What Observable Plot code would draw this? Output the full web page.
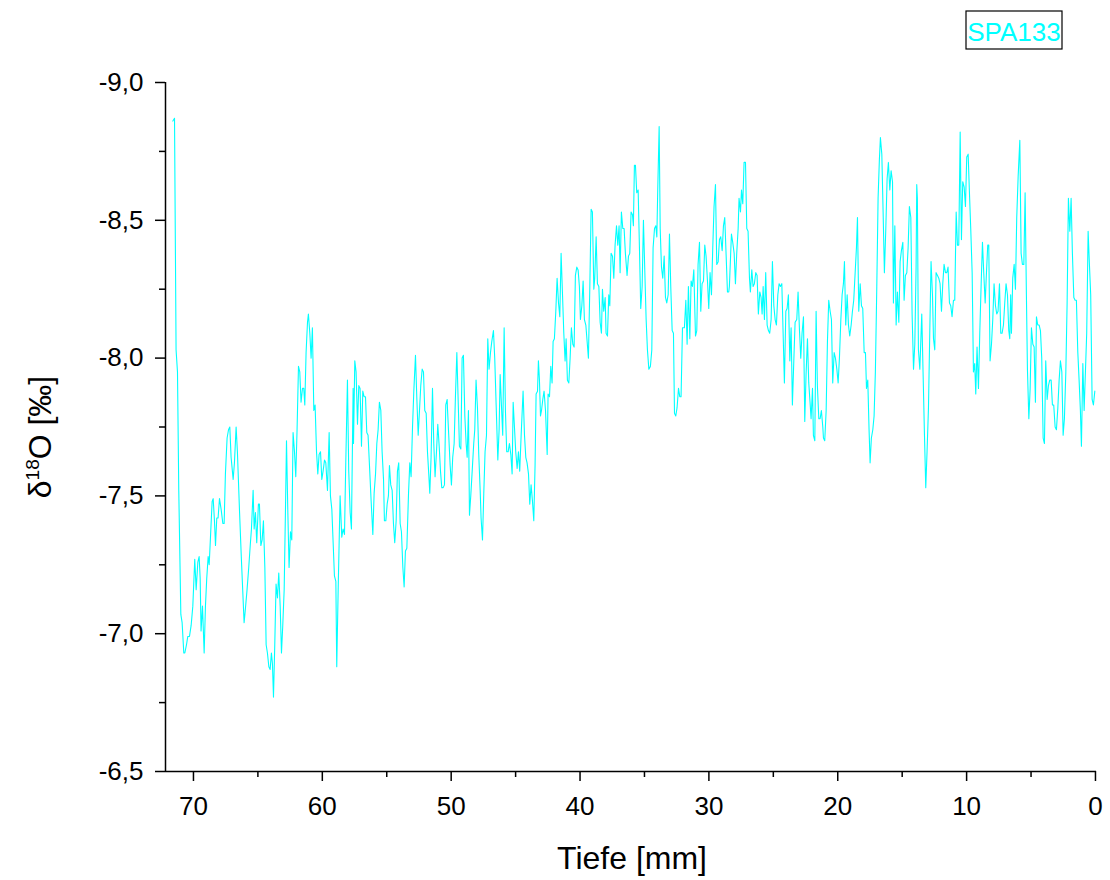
<!DOCTYPE html>
<html><head><meta charset="utf-8">
<script src="https://cdn.jsdelivr.net/npm/d3@7"></script>
<script src="https://cdn.jsdelivr.net/npm/@observablehq/plot@0.6"></script>
<style>
html,body{margin:0;padding:0;background:#fff;}
#chart{position:relative;width:1110px;height:880px;}
</style></head><body><div id="chart"></div>
<script>
const seriesName = "SPA133";
const xTitle = "Tiefe [mm]";
const yTitleParts = ["δ", "18", "O [‰]"];
const yTickValues = [-9, -8.5, -8, -7.5, -7, -6.5];
const yMinorTicks = [-8.75, -8.25, -7.75, -7.25, -6.75];
const xTickValues = [0, 10, 20, 30, 40, 50, 60, 70];
const xMinorTicks = [5, 15, 25, 35, 45, 55, 65];

// [depth mm, δ18O ‰]
const spa133 = [
[71.60,-8.86],[71.47,-8.87],[71.35,-8.03],[71.24,-7.95],[71.14,-7.52],[70.98,-7.07],[70.88,-7.04],[70.75,-6.93],[70.67,-6.93],[70.54,-6.96],[70.44,-6.99],[70.31,-6.99],[70.18,-7.03],[70.05,-7.10],[69.90,-7.27],[69.79,-7.16],[69.66,-7.26],[69.56,-7.28],[69.48,-7.20],[69.41,-7.01],[69.30,-7.10],[69.17,-6.93],[69.07,-7.10],[68.97,-7.20],[68.86,-7.28],[68.78,-7.25],[68.68,-7.35],[68.55,-7.48],[68.47,-7.49],[68.37,-7.41],[68.29,-7.32],[68.19,-7.42],[68.09,-7.42],[67.98,-7.49],[67.85,-7.45],[67.72,-7.40],[67.62,-7.40],[67.52,-7.58],[67.39,-7.71],[67.28,-7.74],[67.18,-7.75],[67.08,-7.64],[66.92,-7.56],[66.82,-7.62],[66.69,-7.75],[66.59,-7.66],[66.43,-7.45],[66.28,-7.27],[66.07,-7.04],[65.97,-7.09],[65.84,-7.16],[65.71,-7.24],[65.58,-7.33],[65.50,-7.38],[65.37,-7.52],[65.29,-7.38],[65.19,-7.44],[65.09,-7.33],[64.96,-7.47],
[64.88,-7.47],[64.77,-7.32],[64.67,-7.34],[64.57,-7.41],[64.46,-7.24],[64.36,-6.96],[64.26,-6.93],[64.15,-6.88],[64.05,-6.87],[63.95,-6.93],[63.87,-6.89],[63.79,-6.77],[63.69,-6.96],[63.59,-7.18],[63.48,-7.13],[63.38,-7.22],[63.27,-7.10],[63.17,-6.93],[63.07,-7.03],[62.96,-7.16],[62.86,-7.45],[62.78,-7.70],[62.68,-7.45],[62.58,-7.24],[62.47,-7.37],[62.37,-7.34],[62.27,-7.73],[62.16,-7.66],[62.06,-7.57],[61.96,-7.74],[61.85,-7.97],[61.75,-7.95],[61.65,-7.84],[61.54,-7.89],[61.44,-7.89],[61.36,-7.83],[61.26,-8.02],[61.15,-8.13],[61.08,-8.16],[60.97,-8.09],[60.87,-8.00],[60.77,-8.11],[60.66,-7.81],[60.56,-7.83],[60.45,-7.66],[60.35,-7.58],[60.25,-7.65],[60.14,-7.66],[60.04,-7.56],[59.94,-7.59],[59.83,-7.63],[59.73,-7.62],[59.60,-7.52],[59.47,-7.73],[59.37,-7.50],[59.26,-7.45],[59.16,-7.33],[59.06,-7.21],[58.95,-7.19],[58.88,-6.88],[58.77,-7.16],[58.62,-7.50],[58.49,-7.35],[58.39,-7.38],[58.28,-7.36],[58.18,-7.62],[58.05,-7.92],[57.95,-7.59],[57.84,-7.44],[57.74,-7.38],[57.61,-7.89],
[57.58,-7.69],[57.48,-7.99],[57.38,-7.95],[57.27,-7.76],[57.17,-7.90],[57.07,-7.89],[56.96,-7.68],[56.86,-7.88],[56.76,-7.86],[56.65,-7.86],[56.55,-7.73],[56.45,-7.72],[56.34,-7.61],[56.21,-7.48],[56.08,-7.36],[55.98,-7.51],[55.87,-7.58],[55.77,-7.69],[55.67,-7.74],[55.57,-7.84],[55.46,-7.81],[55.36,-7.66],[55.25,-7.56],[55.18,-7.41],[55.07,-7.41],[54.97,-7.47],[54.87,-7.50],[54.79,-7.61],[54.69,-7.54],[54.58,-7.52],[54.48,-7.40],[54.38,-7.33],[54.27,-7.41],[54.17,-7.59],[54.07,-7.62],[53.96,-7.40],[53.86,-7.37],[53.75,-7.24],[53.65,-7.17],[53.55,-7.30],[53.44,-7.31],[53.31,-7.51],[53.21,-7.62],[53.11,-7.57],[53.00,-7.75],[52.90,-7.88],[52.77,-8.01],[52.67,-7.86],[52.56,-7.72],[52.46,-7.81],[52.36,-7.90],[52.25,-7.96],[52.15,-7.95],[52.05,-7.81],[51.94,-7.80],[51.84,-7.66],[51.74,-7.58],[51.66,-7.51],[51.56,-7.64],[51.45,-7.89],[51.35,-7.69],[51.25,-7.57],[51.14,-7.66],[51.04,-7.76],[50.93,-7.68],[50.83,-7.59],[50.73,-7.53],[50.62,-7.53],[50.52,-7.54],[50.42,-7.83],[50.31,-7.85],
[50.29,-7.82],[50.19,-7.72],[50.08,-7.61],[49.98,-7.54],[49.88,-7.64],[49.77,-7.69],[49.67,-7.86],[49.56,-8.02],[49.46,-7.85],[49.36,-7.68],[49.25,-7.67],[49.15,-8.00],[49.05,-8.01],[48.94,-7.79],[48.84,-7.69],[48.76,-7.64],[48.66,-7.81],[48.58,-7.43],[48.48,-7.50],[48.37,-7.59],[48.25,-7.69],[48.17,-7.74],[48.07,-7.92],[47.96,-7.82],[47.86,-7.65],[47.75,-7.52],[47.68,-7.42],[47.57,-7.34],[47.47,-7.51],[47.37,-7.66],[47.26,-7.72],[47.16,-8.07],[47.06,-7.96],[46.95,-8.02],[46.85,-8.06],[46.72,-8.10],[46.62,-8.00],[46.51,-7.83],[46.38,-7.63],[46.28,-7.74],[46.20,-7.94],[46.10,-7.83],[46.00,-7.72],[45.89,-8.11],[45.79,-7.81],[45.69,-7.66],[45.58,-7.66],[45.48,-7.69],[45.37,-7.65],[45.27,-7.58],[45.19,-7.84],[45.09,-7.75],[44.99,-7.66],[44.88,-7.60],[44.78,-7.66],[44.68,-7.59],[44.57,-7.72],[44.42,-7.88],[44.31,-7.72],[44.21,-7.64],[44.11,-7.62],[44.00,-7.58],[43.90,-7.47],[43.80,-7.54],[43.69,-7.48],[43.59,-7.41],[43.49,-7.61],[43.41,-7.87],[43.30,-7.88],[43.23,-7.99],[43.15,-7.92],[43.07,-7.79],
[42.99,-7.81],[42.89,-7.85],[42.79,-7.88],[42.68,-7.81],[42.55,-7.65],[42.48,-7.87],[42.37,-7.86],[42.27,-7.97],[42.17,-7.91],[42.09,-8.06],[41.99,-8.07],[41.88,-8.17],[41.78,-8.29],[41.67,-8.20],[41.57,-8.15],[41.47,-8.38],[41.36,-8.23],[41.26,-8.09],[41.16,-7.99],[41.08,-8.07],[40.98,-7.92],[40.87,-7.91],[40.77,-8.00],[40.67,-8.11],[40.56,-8.05],[40.46,-8.04],[40.36,-8.30],[40.25,-8.33],[40.15,-8.32],[40.05,-8.26],[39.97,-8.14],[39.86,-8.19],[39.76,-8.28],[39.66,-8.14],[39.55,-8.12],[39.45,-8.06],[39.35,-8.00],[39.24,-8.26],[39.14,-8.54],[39.04,-8.53],[38.93,-8.25],[38.86,-8.29],[38.75,-8.44],[38.65,-8.27],[38.54,-8.26],[38.44,-8.13],[38.34,-8.09],[38.26,-8.25],[38.16,-8.17],[38.05,-8.22],[37.98,-8.09],[37.87,-8.08],[37.77,-8.23],[37.69,-8.19],[37.59,-8.38],[37.48,-8.37],[37.38,-8.29],[37.28,-8.41],[37.17,-8.48],[37.07,-8.41],[36.97,-8.48],[36.89,-8.31],[36.79,-8.53],[36.68,-8.47],[36.58,-8.47],[36.48,-8.38],[36.35,-8.30],[36.24,-8.37],[36.14,-8.38],[36.04,-8.53],[35.93,-8.52],[35.86,-8.48],[35.78,-8.70],
[35.70,-8.70],[35.60,-8.60],[35.49,-8.61],[35.39,-8.40],[35.29,-8.18],[35.18,-8.26],[35.08,-8.50],[34.97,-8.31],[34.87,-8.14],[34.77,-8.03],[34.66,-7.96],[34.54,-7.97],[34.43,-8.03],[34.33,-8.40],[34.22,-8.47],[34.12,-8.48],[34.04,-8.44],[33.97,-8.61],[33.86,-8.84],[33.78,-8.47],[33.68,-8.33],[33.58,-8.29],[33.47,-8.37],[33.37,-8.22],[33.27,-8.20],[33.16,-8.23],[33.06,-8.45],[32.96,-8.26],[32.85,-8.10],[32.75,-8.09],[32.67,-7.80],[32.57,-7.79],[32.47,-7.82],[32.36,-7.89],[32.26,-7.86],[32.16,-7.86],[32.05,-8.11],[31.90,-8.11],[31.79,-8.21],[31.69,-8.05],[31.59,-8.26],[31.48,-8.07],[31.38,-8.28],[31.28,-8.26],[31.17,-8.32],[31.04,-8.08],[30.94,-8.10],[30.84,-8.34],[30.73,-8.42],[30.63,-8.17],[30.53,-8.27],[30.42,-8.28],[30.32,-8.41],[30.22,-8.37],[30.11,-8.28],[30.01,-8.18],[29.91,-8.31],[29.80,-8.23],[29.70,-8.40],[29.60,-8.55],[29.49,-8.63],[29.39,-8.34],[29.28,-8.35],[29.18,-8.43],[29.08,-8.44],[28.97,-8.39],[28.87,-8.48],[28.77,-8.51],[28.66,-8.37],[28.56,-8.24],[28.46,-8.24],
[28.41,-8.26],[28.25,-8.45],[28.15,-8.42],[28.04,-8.38],[27.94,-8.27],[27.84,-8.38],[27.73,-8.47],[27.66,-8.58],[27.55,-8.53],[27.47,-8.61],[27.37,-8.56],[27.27,-8.71],[27.16,-8.71],[27.06,-8.47],[26.96,-8.46],[26.85,-8.29],[26.78,-8.24],[26.67,-8.32],[26.57,-8.26],[26.47,-8.27],[26.36,-8.31],[26.26,-8.30],[26.16,-8.16],[26.05,-8.24],[25.95,-8.22],[25.87,-8.16],[25.79,-8.26],[25.69,-8.14],[25.59,-8.31],[25.48,-8.12],[25.38,-8.10],[25.28,-8.09],[25.17,-8.14],[25.07,-8.35],[24.96,-8.19],[24.86,-8.14],[24.76,-8.12],[24.65,-8.23],[24.55,-8.27],[24.45,-8.26],[24.34,-8.27],[24.24,-8.09],[24.14,-7.91],[24.03,-8.17],[23.93,-8.18],[23.83,-8.23],[23.72,-7.99],[23.62,-8.11],[23.52,-7.83],[23.41,-7.99],[23.31,-8.13],[23.18,-8.14],[23.08,-8.24],[22.97,-8.10],[22.87,-8.00],[22.77,-8.09],[22.66,-8.15],[22.56,-7.77],[22.46,-7.94],[22.35,-8.07],[22.25,-7.91],[22.15,-7.84],[22.07,-7.78],[21.96,-7.89],[21.89,-7.72],[21.78,-7.70],[21.68,-8.17],[21.58,-7.90],[21.47,-7.78],[21.37,-7.78],[21.27,-7.81],[21.16,-7.75],
[21.11,-7.71],[21.01,-7.70],[20.90,-7.81],[20.80,-8.06],[20.70,-8.21],[20.59,-8.17],[20.49,-8.14],[20.39,-7.91],[20.28,-8.02],[20.18,-8.00],[20.07,-7.96],[19.97,-7.91],[19.87,-8.00],[19.76,-8.14],[19.66,-8.23],[19.56,-8.27],[19.48,-8.35],[19.38,-8.12],[19.27,-8.23],[19.17,-8.12],[19.07,-8.08],[18.96,-8.12],[18.86,-8.17],[18.76,-8.21],[18.65,-8.31],[18.55,-8.40],[18.47,-8.51],[18.37,-8.17],[18.26,-8.27],[18.16,-8.19],[18.06,-8.18],[17.95,-8.02],[17.85,-8.02],[17.77,-7.89],[17.67,-7.92],[17.57,-7.74],[17.49,-7.62],[17.39,-7.71],[17.28,-7.74],[17.18,-7.79],[17.08,-7.95],[16.97,-8.26],[16.87,-8.58],[16.77,-8.72],[16.69,-8.80],[16.58,-8.74],[16.48,-8.53],[16.38,-8.31],[16.27,-8.47],[16.17,-8.65],[16.07,-8.71],[15.96,-8.61],[15.86,-8.68],[15.75,-8.64],[15.68,-8.20],[15.57,-8.48],[15.47,-8.12],[15.37,-8.24],[15.26,-8.13],[15.16,-8.35],[15.06,-8.39],[14.95,-8.42],[14.85,-8.21],[14.75,-8.30],[14.64,-8.31],[14.54,-8.40],[14.44,-8.55],[14.33,-8.51],[14.23,-8.16],[14.12,-7.96],[14.02,-8.05],[13.92,-8.33],[13.87,-8.63],
[13.82,-8.58],[13.74,-8.03],[13.63,-7.96],[13.48,-8.16],[13.38,-7.95],[13.27,-7.72],[13.17,-7.53],[13.07,-7.66],[12.96,-7.82],[12.86,-8.09],[12.76,-8.35],[12.65,-8.23],[12.57,-8.07],[12.47,-8.03],[12.37,-8.31],[12.26,-8.30],[12.16,-8.29],[12.06,-8.27],[11.95,-8.17],[11.85,-8.27],[11.75,-8.34],[11.64,-8.31],[11.54,-8.31],[11.44,-8.33],[11.33,-8.20],[11.23,-8.19],[11.13,-8.15],[11.02,-8.21],[10.92,-8.21],[10.81,-8.53],[10.71,-8.41],[10.61,-8.41],[10.50,-8.82],[10.40,-8.43],[10.30,-8.64],[10.19,-8.62],[10.09,-8.55],[9.99,-8.73],[9.88,-8.74],[9.78,-8.60],[9.68,-8.47],[9.57,-8.31],[9.47,-7.95],[9.37,-7.98],[9.29,-7.87],[9.19,-8.04],[9.08,-7.89],[8.98,-8.09],[8.87,-8.27],[8.77,-8.42],[8.67,-8.31],[8.56,-8.20],[8.46,-8.31],[8.36,-8.41],[8.28,-8.41],[8.18,-7.99],[8.07,-8.05],[7.97,-8.14],[7.87,-8.27],[7.76,-8.19],[7.66,-8.16],[7.56,-8.17],[7.45,-8.27],[7.35,-8.09],[7.25,-8.09],[7.14,-8.12],[7.04,-8.20],[6.94,-8.27],[6.83,-8.23],[6.73,-8.10],[6.65,-8.07],[6.58,-8.23],
[6.52,-8.09],[6.42,-8.29],[6.31,-8.34],[6.21,-8.25],[6.11,-8.51],[6.00,-8.66],[5.87,-8.79],[5.77,-8.38],[5.67,-8.34],[5.56,-8.34],[5.46,-8.60],[5.36,-8.23],[5.28,-7.96],[5.17,-7.78],[5.07,-7.89],[4.97,-8.11],[4.86,-8.05],[4.76,-8.04],[4.66,-7.84],[4.58,-8.15],[4.48,-8.12],[4.37,-8.12],[4.27,-8.10],[4.17,-8.00],[4.06,-7.71],[3.96,-7.69],[3.86,-7.99],[3.75,-7.85],[3.65,-7.90],[3.55,-7.92],[3.44,-7.92],[3.34,-7.83],[3.24,-7.83],[3.13,-7.75],[3.03,-7.74],[2.92,-7.82],[2.82,-7.92],[2.72,-7.99],[2.61,-7.95],[2.51,-7.72],[2.41,-7.78],[2.30,-7.95],[2.20,-8.20],[2.10,-8.58],[1.99,-8.46],[1.89,-8.58],[1.79,-8.38],[1.68,-8.22],[1.58,-8.21],[1.48,-8.21],[1.37,-8.02],[1.27,-7.92],[1.17,-7.81],[1.09,-7.68],[0.98,-7.98],[0.88,-7.81],[0.78,-7.95],[0.68,-8.09],[0.57,-8.46],[0.47,-8.34],[0.37,-8.23],[0.26,-7.85],[0.16,-7.83],[0.05,-7.88]
];

const data = spa133.map(([depth, d18o]) => ({depth, d18o}));
const fmt = d3.formatLocale({decimal: ",", thousands: ".", grouping: [3], currency: ["", ""], minus: "-"}).format(".1f");
const FONT = "'Liberation Sans', Arial, Helvetica, sans-serif";
const xDomain = [72.17, -0.08];
const yDomain = [-6.5, -9];

const chart = Plot.plot({
  width: 1110, height: 880,
  marginLeft: 165, marginRight: 14, marginTop: 82, marginBottom: 109,
  style: {fontFamily: FONT, background: "#fff", color: "#000", overflow: "visible"},
  x: {domain: xDomain},
  y: {domain: yDomain},
  marks: [
    Plot.line(data, {x: "depth", y: "d18o", stroke: "#00ffff", strokeWidth: 1.1}),
    Plot.axisX({ticks: xTickValues, tickSize: 10, tickPadding: 15, fontSize: 26, label: null, tickFormat: d => String(d), strokeWidth: 1.5}),
    Plot.axisX({ticks: xMinorTicks, tickSize: 6, tickFormat: () => "", label: null, strokeWidth: 1.5}),
    Plot.axisY({ticks: yTickValues, tickSize: 10, tickPadding: 12, fontSize: 26, label: null, tickFormat: fmt, strokeWidth: 1.5}),
    Plot.axisY({ticks: yMinorTicks, tickSize: 6, tickFormat: () => "", label: null, strokeWidth: 1.5}),
    Plot.ruleX([xDomain[0]], {stroke: "#000", strokeWidth: 1.5}),
    Plot.ruleY([yDomain[0]], {stroke: "#000", strokeWidth: 1.5})
  ]
});
document.getElementById("chart").appendChild(chart);

const svg = d3.select(chart);
svg.append("text")
  .attr("x", 632).attr("y", 869)
  .attr("text-anchor", "middle")
  .attr("font-family", FONT).attr("font-size", 32).attr("fill", "#000")
  .text(xTitle);

const yt = svg.append("text")
  .attr("transform", "translate(51,437) rotate(-90)")
  .attr("text-anchor", "middle")
  .attr("font-family", FONT).attr("font-size", 32).attr("fill", "#000");
yt.append("tspan").text(yTitleParts[0]);
yt.append("tspan").attr("font-size", 19).attr("dy", -12).text(yTitleParts[1]);
yt.append("tspan").attr("dy", 12).text(yTitleParts[2]);

svg.append("rect")
  .attr("x", 966).attr("y", 11).attr("width", 96).attr("height", 38)
  .attr("fill", "#fff").attr("stroke", "#000").attr("stroke-width", 1.2);
svg.append("text")
  .attr("x", 1014).attr("y", 41)
  .attr("text-anchor", "middle")
  .attr("font-family", FONT).attr("font-size", 26).attr("fill", "#00ffff")
  .text(seriesName);
</script></body></html>
